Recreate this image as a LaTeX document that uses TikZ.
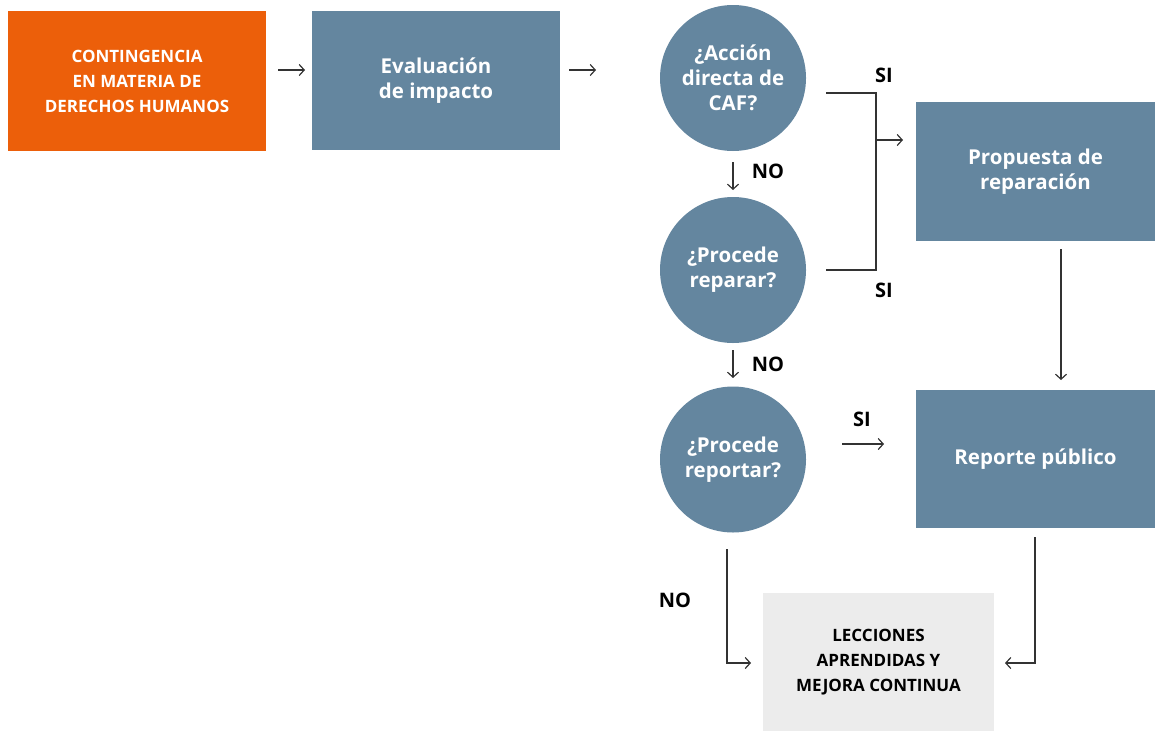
\documentclass[tikz,border=0pt]{standalone}
\usepackage{fontspec}
\setmainfont{Open Sans}
\usetikzlibrary{arrows.meta}
\definecolor{cafOrange}{HTML}{EC5F0A}
\definecolor{cafBlue}{HTML}{64869F}
\definecolor{cafGrey}{HTML}{ECECEC}
\begin{document}
\begin{tikzpicture}[
  x=1pt, y=-1pt,
  startbox/.style={fill=cafOrange, text=white, inner sep=0pt, minimum width=258pt,
                   minimum height=140pt, align=center, font=\fontsize{17}{25}\selectfont\bfseries},
  stagebox/.style={fill=cafBlue, text=white, inner sep=0pt, minimum width=248pt,
                   minimum height=139pt, align=center, font=\fontsize{20.5}{25.5}\selectfont\bfseries},
  question/.style={circle, fill=cafBlue, text=white, inner sep=0pt, minimum size=146pt,
                   align=center, font=\fontsize{20.5}{25}\selectfont\bfseries},
  endbox/.style={fill=cafGrey, text=black, inner sep=0pt, minimum width=231pt,
                 minimum height=138pt, align=center, font=\fontsize{17}{25}\selectfont\bfseries},
  answer/.style={font=\fontsize{20}{24}\selectfont\bfseries},
  conn/.style={line width=1.2pt, black!80},
  flow/.style={->, >={Straight Barb[length=5pt, width=11pt]}, line width=1.2pt, black!80},
]
\useasboundingbox (0,0) rectangle (1155,731);

% Row 1: start and impact assessment
\node[startbox] (start) at (137,81) {CONTINGENCIA\\EN MATERIA DE\\DERECHOS HUMANOS};
\node[stagebox] (eval) at (436,80.5) {Evaluación\\de impacto};
\coordinate (evalIn) at (278,70);
\coordinate (evalInEnd) at (305,70);
\coordinate (qOneIn) at (569,70);
\coordinate (qOneInEnd) at (596,70);
\draw[flow] (evalIn) -- (evalInEnd);
\draw[flow] (qOneIn) -- (qOneInEnd);

% Decision column
\node[question] (qAction) at (733,78)  {¿Acción\\directa de\\CAF?};
\node[question] (qRepair) at (733,270) {¿Procede\\reparar?};
\node[question] (qReport) at (733,459.5) {¿Procede\\reportar?};

% NO arrows between the decisions
\coordinate (noOneA) at (733,162);
\coordinate (noOneB) at (733,190);
\coordinate (noTwoA) at (733,350);
\coordinate (noTwoB) at (733,378);
\draw[flow] (noOneA) -- (noOneB);
\draw[flow] (noTwoA) -- (noTwoB);
\node[answer] (noOne) at (768,171) {NO};
\node[answer] (noTwo) at (768,364) {NO};

% Right column: outcomes
\node[stagebox, minimum width=239pt] (repair) at (1035.5,171.5) {Propuesta de\\reparación};
\node[stagebox, minimum width=239pt, minimum height=138pt] (report) at (1035.5,459) {Reporte público};
\node[endbox] (lessons) at (878.5,662) {LECCIONES\\APRENDIDAS Y\\MEJORA CONTINUA};
\useasboundingbox (0,0) rectangle (1155,731);

% Bracket from both decisions into the repair proposal
\coordinate (brTop) at (826,93);
\coordinate (brBot) at (826,270);
\coordinate (brMid) at (876,140);
\coordinate (brEnd) at (903,140);
\draw[conn] (brTop) -- (876,93) -- (876,270) -- (brBot);
\draw[flow] (brMid) -- (brEnd);
\node[answer] (siOne) at (884,75)  {SI};
\node[answer] (siTwo) at (884,290) {SI};

% Repair proposal down to public report
\coordinate (repDownA) at (1061,249);
\coordinate (repDownB) at (1061,380);
\draw[flow] (repDownA) -- (repDownB);

% Report decision SI
\coordinate (siRepA) at (842,444);
\coordinate (siRepB) at (884,444);
\draw[flow] (siRepA) -- (siRepB);
\node[answer] (siThree) at (862,419) {SI};

% Into lessons learned
\coordinate (noRepA) at (727,549);
\coordinate (noRepB) at (751,663);
\draw[flow] (noRepA) |- (noRepB);
\node[answer] (noThree) at (675,600) {NO};
\coordinate (backA) at (1035,537);
\coordinate (backB) at (1005,663);
\draw[flow] (backA) |- (backB);

\end{tikzpicture}
\end{document}
